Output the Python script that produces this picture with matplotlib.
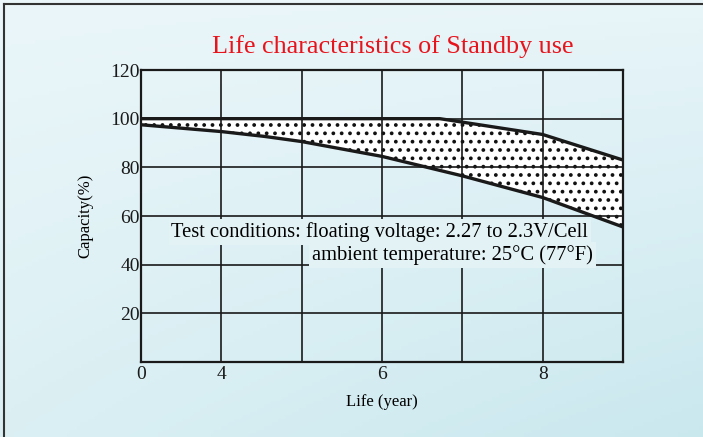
import matplotlib
matplotlib.use("Agg")
import matplotlib.pyplot as plt
import numpy as np
from matplotlib.lines import Line2D

# x axis is not linear: grid columns at these years
grid_years = [0, 4, 5, 6, 7, 8, 9]
tick_labels = ['0', '4', '', '6', '', '8', '']

# upper and lower boundary of the capacity band (years, %)
upper_years = [0, 4, 5, 6, 6.72, 8, 9]
upper_cap = [100, 100, 100, 100, 100, 93.5, 83]
lower_years = [0, 4, 4.54, 5, 6, 7, 8, 9]
lower_cap = [97.5, 94.7, 92.7, 90.6, 84.5, 76.5, 67.6, 55.5]

y_ticks = [20, 40, 60, 80, 100, 120]

plt.rcParams['font.family'] = ['Liberation Serif', 'DejaVu Serif']
plt.rcParams['hatch.linewidth'] = 1.5
plt.rcParams['hatch.color'] = '#111111'

fig = plt.figure(figsize=(7.03, 4.37), dpi=100)

# light blue background gradient
bg = fig.add_axes([0, 0, 1, 1], zorder=-10)
bg.set_axis_off()
tl = np.array([0.92, 0.965, 0.978])
tr = np.array([0.91, 0.96, 0.975])
bl = np.array([0.86, 0.94, 0.955])
br = np.array([0.79, 0.91, 0.935])
u = np.linspace(0, 1, 200)[None, :, None]
v = np.linspace(0, 1, 120)[:, None, None]
img = (1 - v) * ((1 - u) * tl + u * tr) + v * ((1 - u) * bl + u * br)
bg.imshow(img, aspect='auto', extent=[0, 1, 0, 1])
bg.set_xlim(0, 1)
bg.set_ylim(0, 1)

# frame lines at top and left
fig.add_artist(Line2D([0.005, 1], [0.99, 0.99], transform=fig.transFigure, color='#333333', lw=1.5))
fig.add_artist(Line2D([0.005, 0.005], [0, 0.99], transform=fig.transFigure, color='#333333', lw=1.5))

ax = fig.add_axes([0.2006, 0.1716, 0.6856, 0.6682])
ax.patch.set_alpha(0)

pos = np.arange(len(grid_years))
ux = np.interp(upper_years, grid_years, pos)
lx = np.interp(lower_years, grid_years, pos)

# fill between the two curves with a dotted pattern
xs = np.union1d(ux, lx)
uy = np.interp(xs, ux, upper_cap)
ly = np.interp(xs, lx, lower_cap)
ax.fill_between(xs, ly, uy, facecolor='white', edgecolor='#111111', hatch='..', lw=0, zorder=2)

ax.plot(ux, upper_cap, color='#1a1a1a', lw=2.4, zorder=4, solid_capstyle='butt')
ax.plot(lx, lower_cap, color='#1a1a1a', lw=2.4, zorder=4, solid_capstyle='butt')

ax.set_xlim(0, len(grid_years) - 1)
ax.set_ylim(0, 120)
ax.set_xticks(pos)
ax.set_xticklabels(tick_labels)
ax.set_yticks(y_ticks)
ax.tick_params(length=0, labelsize=14, colors='#1a1a1a', pad=3)
ax.tick_params(axis='y', pad=1)
ax.grid(True, color='#1a1a1a', lw=1.2, zorder=3)
ax.set_axisbelow(False)
for s in ax.spines.values():
    s.set_color('#1a1a1a')
    s.set_linewidth(1.6)
    s.set_zorder(5)

ax.set_xlabel('Life (year)', fontsize=12, labelpad=8)
ax.set_ylabel('Capacity(%)', fontsize=12, labelpad=12)

bgc = '#e3f2f5'
ax.text(0.928, 0.445, 'Test conditions: floating voltage: 2.27 to 2.3V/Cell',
        transform=ax.transAxes, ha='right', va='center', fontsize=14.8, zorder=6,
        bbox=dict(facecolor=bgc, edgecolor='none', pad=2.0))
ax.text(0.938, 0.366, 'ambient temperature: 25°C (77°F)',
        transform=ax.transAxes, ha='right', va='center', fontsize=14.8, zorder=6,
        bbox=dict(facecolor=bgc, edgecolor='none', pad=2.0))

fig.text(0.558, 1 - 47 / 437, 'Life characteristics of Standby use',
         ha='center', va='center', fontsize=18.8, color='#e8141c')

fig.savefig('out.png', dpi=100)
